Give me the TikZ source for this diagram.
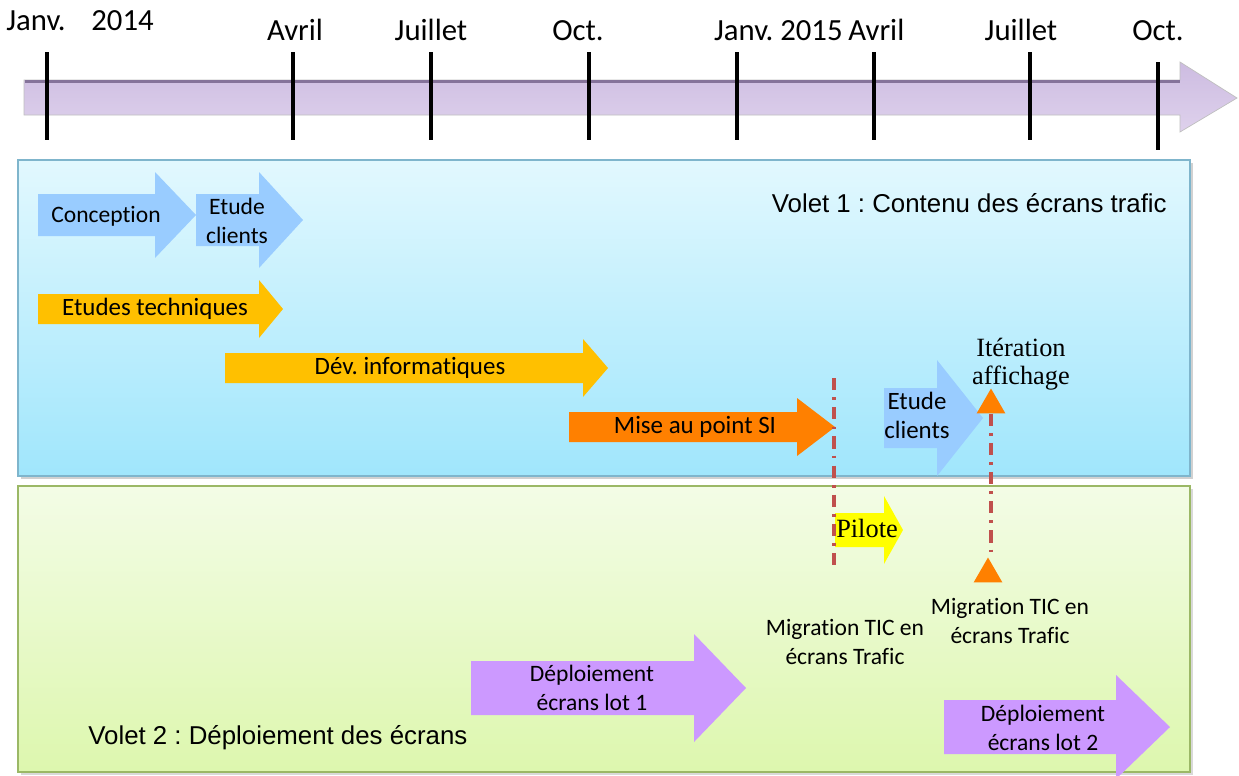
\documentclass[tikz,border=0pt]{standalone}
\usepackage{fontspec}
\setmainfont{Carlito}[Ligatures=NoCommon]
\newfontfamily\voletfont{Liberation Sans}
\newfontfamily\notefont{Liberation Serif}
\usetikzlibrary{shapes.geometric, positioning}
\frenchspacing

\definecolor{bluephase}{HTML}{99CCFF}
\definecolor{goldphase}{HTML}{FFC000}
\definecolor{orangephase}{HTML}{FF8000}
\definecolor{yellowphase}{HTML}{FFFF00}
\definecolor{purplephase}{HTML}{CC99FF}
\definecolor{redline}{HTML}{C0504D}
\definecolor{timetop}{HTML}{85739A}
\definecolor{timemid}{HTML}{CDBCE1}
\definecolor{timebot}{HTML}{DED1EC}
\definecolor{skytop}{HTML}{E2F8FE}
\definecolor{skybot}{HTML}{A0E6FC}
\definecolor{skyline}{HTML}{7FB5CC}
\definecolor{greentop}{HTML}{F3FCE6}
\definecolor{greenbot}{HTML}{DDF7AE}
\definecolor{greenline}{HTML}{9BB866}

% fill, x tail, x head base, x tip, y middle, half body, half head
\newcommand{\phasearrow}[7]{%
  \fill[#1] (#2,#5-#6) -- (#3,#5-#6) -- (#3,#5-#7) -- (#4,#5)
    -- (#3,#5+#7) -- (#3,#5+#6) -- (#2,#5+#6) -- cycle;}

\begin{document}
\begin{tikzpicture}[x=0.02cm, y=-0.02cm,
    month/.style={font=\fontsize{17.5}{20}\selectfont, inner sep=0pt, anchor=base},
    tick/.style={line width=2.3pt},
    phase/.style={font=\fontsize{13.4}{16.5}\selectfont, align=center, inner sep=0pt},
    bigphase/.style={phase, font=\fontsize{14.2}{16.5}\selectfont},
    note/.style={font={\notefont\fontsize{15}{16}\selectfont}, align=center, inner sep=0pt},
    volet/.style={font={\voletfont\fontsize{14.7}{17}\selectfont}, inner sep=0pt},
    golive/.style={draw=redline, line width=2pt, dash pattern=on 7pt off 4pt on 1.6pt off 4pt},
    marker/.style={regular polygon, regular polygon sides=3, fill=orangephase, minimum size=0.66cm, inner sep=0pt},
]
\useasboundingbox (0,0) rectangle (1239,775);

% time axis
\shadedraw[draw=gray!50, top color=timemid, bottom color=timebot]
  (24,80) -- (1180,80) -- (1180,62) -- (1237,98) -- (1180,132) -- (1180,115) -- (24,115) -- cycle;
\draw[timetop, line width=1.6pt] (25,81.5) -- (1180,81.5);
\foreach \x in {47,293,431,589,737,874,1030}
  \draw[tick] (\x,52) -- (\x,140);
\draw[tick] (1158,62) -- (1158,150);

\node[month, anchor=base west] (jan14) at (6,30) {Janv.};
\node[month, anchor=base west] (y14) at (91,30) {2014};
\node[month] (apr14) at (295,40) {Avril};
\node[month] (jul14) at (431,40) {Juillet};
\node[month] (oct14) at (578,40) {Oct.};
\node[month, anchor=base east] (jan15) at (843,40) {Janv. 2015};
\node[month, anchor=base west] (apr15) at (848,40) {Avril};
\node[month] (jul15) at (1021,40) {Juillet};
\node[month] (oct15) at (1158,40) {Oct.};

% panels
\fill[black!18] (21,163) rectangle (1193,479);
\shadedraw[draw=skyline, line width=0.8pt, top color=skytop, bottom color=skybot] (18,160) rectangle (1190,476);
\fill[black!15] (21,489) rectangle (1193,775);
\shadedraw[draw=greenline, line width=0.8pt, top color=greentop, bottom color=greenbot] (18,486) rectangle (1190,772);

\node[volet, anchor=base east] (volet1) at (1167,212) {Volet 1 : Contenu des écrans trafic};
\node[volet, anchor=base west] (volet2) at (88,744) {Volet 2 : Déploiement des écrans};

% volet 1
\phasearrow{bluephase}{38}{155}{196}{215}{21}{43}
\phasearrow{bluephase}{196}{259}{303}{220}{26}{48}
\phasearrow{goldphase}{38}{259}{283}{309}{15}{29}
\phasearrow{goldphase}{225}{583}{608}{368}{15}{29}
\phasearrow{orangephase}{569}{797}{835}{427}{15}{29}
\phasearrow{bluephase}{884}{937}{983}{418}{30}{58}

\node[phase] (concept) at (106,216) {Conception};
\node[phase] (etude1) at (237,221) {Etude\\clients};
\node[bigphase] (techno) at (155,309) {Etudes techniques};
\node[bigphase] (devinfo) at (410,368) {Dév. informatiques};
\node[bigphase] (misept) at (695,427) {Mise au point SI};
\node[bigphase] (etude2) at (917,415) {Etude\\clients};
\node[note] (iteration) at (1021,364) {Itération\\affichage};

% volet 2
\phasearrow{yellowphase}{835}{884}{903}{530}{17}{34}
\phasearrow{purplephase}{471}{694}{746}{688}{27}{54}
\phasearrow{purplephase}{944}{1116}{1170}{727}{27}{52}

\node[note] (pilote) at (867,528) {Pilote};
\node[phase] (migr1) at (845,642) {Migration TIC en\\écrans Trafic};
\node[phase] (migr2) at (1010,621) {Migration TIC en\\écrans Trafic};
\node[phase] (lot1) at (592,688) {Déploiement\\écrans lot 1};
\node[phase] (lot2) at (1043,728) {Déploiement\\écrans lot 2};

% jalons
\node[marker] (itermark) at (991,405) {};
\node[marker] (migrmark) at (988,574) {};
\coordinate (golivetop) at (834,378);
\coordinate (golivebot) at (834,565);
\draw[golive] (golivetop) -- (golivebot);
\draw[golive] (itermark.south) -- (migrmark.north -| itermark.south);
\end{tikzpicture}
\end{document}
